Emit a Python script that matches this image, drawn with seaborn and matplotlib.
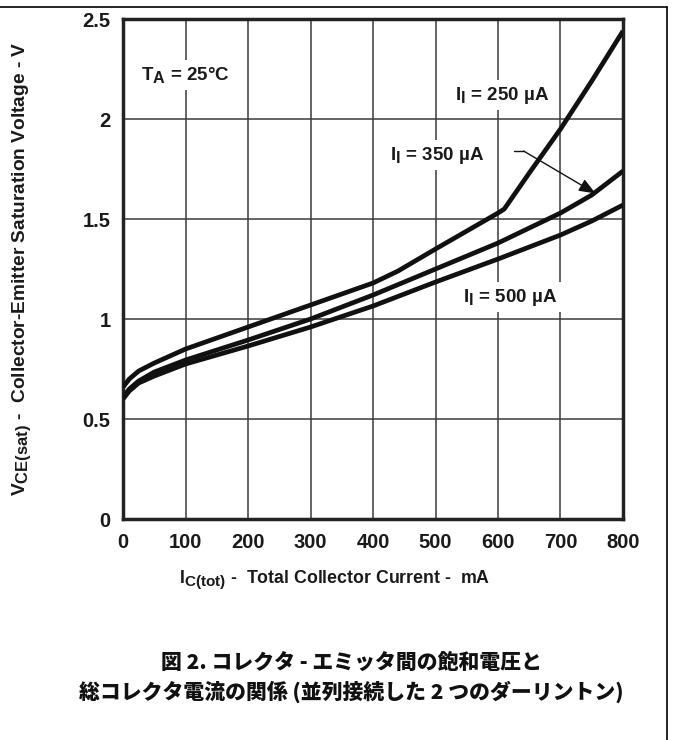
import matplotlib
matplotlib.use("Agg")
import matplotlib.pyplot as plt
import matplotlib._mathtext as _mt
import numpy as np
import pandas as pd
import seaborn as sns
from matplotlib.lines import Line2D

# Collector current (mA) and saturation voltage (V) for each input current
i_250 = [0, 10, 25, 50, 100, 200, 300, 400, 440, 500, 550, 600, 610, 650, 700, 750, 800]
v_250 = [0.66, 0.70, 0.74, 0.78, 0.85, 0.96, 1.07, 1.18, 1.24, 1.35, 1.44, 1.53, 1.55, 1.73, 1.95, 2.19, 2.44]

i_350 = [0, 10, 25, 50, 100, 200, 300, 400, 500, 600, 700, 750, 800]
v_350 = [0.61, 0.65, 0.69, 0.735, 0.795, 0.895, 1.00, 1.12, 1.25, 1.38, 1.53, 1.62, 1.74]

i_500 = [0, 10, 25, 50, 100, 200, 300, 400, 500, 600, 700, 750, 800]
v_500 = [0.60, 0.64, 0.68, 0.715, 0.775, 0.865, 0.96, 1.065, 1.185, 1.30, 1.42, 1.49, 1.57]

series_names = ["250", "350", "500"]
x_ticks = [0, 100, 200, 300, 400, 500, 600, 700, 800]
y_ticks = [0, 0.5, 1, 1.5, 2, 2.5]
y_tick_labels = ["0", "0.5", "1", "1.5", "2", "2.5"]

frames = []
for name, xs, ys in zip(series_names, [i_250, i_350, i_500], [v_250, v_350, v_500]):
    frames.append(pd.DataFrame({"ic": xs, "vce": ys, "ii": name}))
df = pd.concat(frames, ignore_index=True)

sns.set_style("white")
plt.rcParams["font.family"] = ["Liberation Sans", "DejaVu Sans"]
plt.rcParams["font.weight"] = "bold"
plt.rcParams["mathtext.fontset"] = "custom"
plt.rcParams["mathtext.rm"] = "Liberation Sans:bold"
plt.rcParams["mathtext.it"] = "Liberation Sans:bold"
plt.rcParams["mathtext.bf"] = "Liberation Sans:bold"
plt.rcParams["mathtext.default"] = "rm"
# subscripts in these labels are set only slightly smaller than the main text
_mt.SHRINK_FACTOR = 0.86

ink = "#1a1a1a"

fig = plt.figure(figsize=(6.73, 7.40), dpi=100)
ax = fig.add_axes([0.1828, 0.2986, 0.7429, 0.6757])

sns.lineplot(data=df, x="ic", y="vce", hue="ii", palette=["#111111"] * 3,
             linewidth=3.4, legend=False, ax=ax, zorder=5, sort=False)
for ln in ax.get_lines():
    ln.set_solid_joinstyle("round")
    ln.set_solid_capstyle("butt")

ax.set_xlim(0, 800)
ax.set_ylim(0, 2.5)
ax.set_xticks(x_ticks)
ax.set_xticklabels([str(t) for t in x_ticks])
ax.set_yticks(y_ticks)
ax.set_yticklabels(y_tick_labels)
ax.tick_params(axis="both", length=0, labelsize=14.5, colors=ink)
ax.tick_params(axis="x", pad=10)
ax.tick_params(axis="y", pad=9)
for lab in ax.get_xticklabels() + ax.get_yticklabels():
    lab.set_fontweight("bold")

ax.grid(True, color="#3a3a3a", linewidth=1.1)
ax.set_axisbelow(True)
for sp in ax.spines.values():
    sp.set_linewidth(2.5)
    sp.set_color("#222222")
    sp.set_visible(True)

ax.set_xlabel(r"$I_{C(tot)}$ -  Total Collector Current -  mA", fontsize=12.8,
              fontweight="bold", color=ink)
ax.xaxis.set_label_coords(0.423, -0.098)
ax.set_ylabel(r"$V_{CE(sat)}$ -  Collector-Emitter Saturation Voltage - V", fontsize=13.8,
              fontweight="bold", color=ink)
ax.yaxis.set_label_coords(-0.18, 0.5)

box = dict(boxstyle="square,pad=0.25", facecolor="white", edgecolor="none")
label_kw = dict(fontsize=13.5, fontweight="bold", ha="left", va="center",
                bbox=box, zorder=3, color=ink)
ax.text(28, 2.22, r"$T_A$ = 25°C", **label_kw)
ax.text(531, 2.12, r"$I_I$ = 250 µA", **label_kw)
ax.text(427, 1.82, r"$I_I$ = 350 µA", **label_kw)
ax.text(544, 1.11, r"$I_I$ = 500 µA", **label_kw)

# leader from the 350 µA label to its curve
ax.plot([626, 641], [1.84, 1.84], color="#111111", linewidth=1.0, zorder=6)
ax.annotate("", xy=(756, 1.628), xytext=(641, 1.84),
            arrowprops=dict(arrowstyle="-|>,head_length=1.0,head_width=0.4",
                            color="#111111", linewidth=1.0, shrinkA=0, shrinkB=0),
            zorder=6)

# page frame lines
fig.add_artist(Line2D([0, 667 / 673], [1 - 7 / 740, 1 - 7 / 740], color="black",
                      linewidth=1.2, transform=fig.transFigure))
fig.add_artist(Line2D([667 / 673, 667 / 673], [0, 1 - 7 / 740], color="black",
                      linewidth=1.2, transform=fig.transFigure))

cap_font = ["Noto Sans CJK JP", "DejaVu Sans"]
cap_kw = dict(ha="center", va="center", fontsize=15, fontweight="heavy",
              family=cap_font, color="#111111")
fig.text(0.522, 1 - 663 / 740, "図 2. コレクタ - エミッタ間の飽和電圧と", **cap_kw)
fig.text(0.522, 1 - 692 / 740, "総コレクタ電流の関係 (並列接続した 2 つのダーリントン)", **cap_kw)

fig.savefig("out.png", dpi=100)
